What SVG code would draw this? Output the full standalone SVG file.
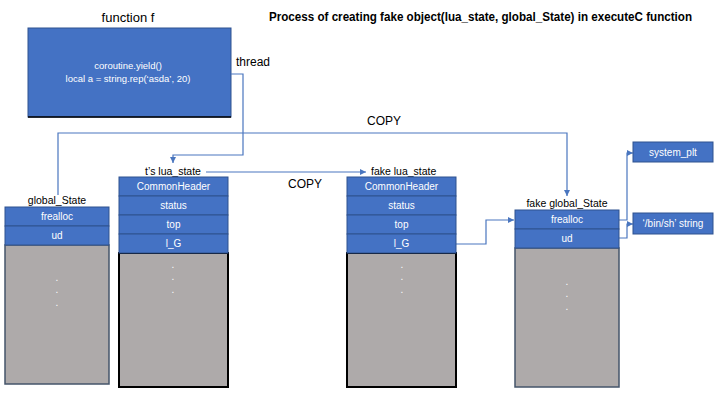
<svg xmlns="http://www.w3.org/2000/svg" width="720" height="405" viewBox="0 0 720 405">
<style>
text{font-family:"Liberation Sans",Arial,sans-serif}
.lbl{font-size:12px;fill:#000}
.sm{font-size:10.5px;fill:#000}
.cell{fill:#4472C4;stroke:#2F528F;stroke-width:1}
.ct{font-size:10px;fill:#fff;text-anchor:middle}
.dot{font-size:10px;fill:#fff;text-anchor:middle}
.gb{fill:#AEAAAA;stroke:#44546A;stroke-width:1.5}
.gk{fill:#AEAAAA;stroke:#000;stroke-width:2}
.con{fill:none;stroke:#4A76BF;stroke-width:1.2}
</style>
<defs>
<marker id="ah" markerUnits="userSpaceOnUse" markerWidth="8" markerHeight="8" refX="6" refY="3" orient="auto">
<path d="M0,0 L6,3 L0,6 z" fill="#4A76BF"/>
</marker>
</defs>
<rect width="720" height="405" fill="#fff"/>
<text x="269" y="21" style="font-size:12px;font-weight:bold" textLength="423" lengthAdjust="spacingAndGlyphs">Process of creating fake object(lua_state, global_State) in executeC function</text>

<g id="function-f">
<text x="128" y="22" class="lbl" text-anchor="middle" style="font-size:13px">function f</text>
<rect x="28" y="28" width="203" height="89" fill="#4472C4" stroke="#2F528F"/>
<line x1="28" y1="117" x2="231" y2="117" stroke="#000" stroke-width="1.5"/>
<text x="128" y="69" class="ct" style="font-size:9.5px">coroutine.yield()</text>
<text x="128" y="82" class="ct" style="font-size:9.5px">local a = string.rep(‘asda’, 20)</text>
</g>
<text x="236" y="66" class="lbl">thread</text>
<text x="367" y="125" class="lbl">COPY</text>
<text x="288" y="188" class="lbl">COPY</text>

<g id="connectors">
<path class="con" d="M231,74 H243 V155 H173 V163" marker-end="url(#ah)"/>
<path class="con" d="M58,195 V133 H567 V196" marker-end="url(#ah)"/>
<path class="con" d="M206,172 H366" marker-end="url(#ah)"/>
<path class="con" d="M456,244 H486 V220 H514" marker-end="url(#ah)"/>
<path class="con" d="M619,220 H627 V153 H633" marker-end="url(#ah)"/>
<path class="con" d="M619,238 H627 V224 H633" marker-end="url(#ah)"/>
</g>

<g id="global-state">
<text x="57" y="204" class="sm" text-anchor="middle">global_State</text>
<rect x="5" y="245" width="104" height="139" class="gb"/>
<rect x="5" y="207" width="104" height="19" class="cell"/>
<text x="57" y="220" class="ct">frealloc</text>
<rect x="5" y="226" width="104" height="19" class="cell"/>
<text x="57" y="239" class="ct">ud</text>
<text x="57" y="281" class="dot">.</text>
<text x="57" y="293" class="dot">.</text>
<text x="57" y="306" class="dot">.</text>
</g>

<g id="t-lua-state">
<text x="173" y="174.5" class="sm" text-anchor="middle">t’s lua_state</text>
<rect x="119" y="253" width="109" height="134" class="gk"/>
<rect x="119" y="177" width="109" height="19" class="cell"/>
<text x="173.5" y="190" class="ct">CommonHeader</text>
<rect x="119" y="196" width="109" height="19" class="cell"/>
<text x="173.5" y="209" class="ct">status</text>
<rect x="119" y="215" width="109" height="19" class="cell"/>
<text x="173.5" y="228" class="ct">top</text>
<rect x="119" y="234" width="109" height="19" class="cell"/>
<text x="173.5" y="247" class="ct">l_G</text>
<text x="173" y="268" class="dot">.</text>
<text x="173" y="280" class="dot">.</text>
<text x="173" y="293" class="dot">.</text>
</g>

<g id="fake-lua-state">
<text x="371" y="174.5" class="sm">fake lua_state</text>
<rect x="347" y="253" width="109" height="134" class="gk"/>
<rect x="347" y="177" width="109" height="19" class="cell"/>
<text x="401.5" y="190" class="ct">CommonHeader</text>
<rect x="347" y="196" width="109" height="19" class="cell"/>
<text x="401.5" y="209" class="ct">status</text>
<rect x="347" y="215" width="109" height="19" class="cell"/>
<text x="401.5" y="228" class="ct">top</text>
<rect x="347" y="234" width="109" height="19" class="cell"/>
<text x="401.5" y="247" class="ct">l_G</text>
<text x="402" y="268" class="dot">.</text>
<text x="402" y="280" class="dot">.</text>
<text x="402" y="293" class="dot">.</text>
</g>

<g id="fake-global-state">
<text x="567" y="207" class="sm" text-anchor="middle">fake global_State</text>
<rect x="515" y="248" width="104" height="139" class="gb"/>
<rect x="515" y="210" width="104" height="19" class="cell"/>
<text x="567" y="223" class="ct">frealloc</text>
<rect x="515" y="229" width="104" height="19" class="cell"/>
<text x="567" y="242" class="ct">ud</text>
<text x="567" y="285" class="dot">.</text>
<text x="567" y="297" class="dot">.</text>
<text x="567" y="310" class="dot">.</text>
</g>

<g id="system-plt">
<rect x="633" y="142" width="80" height="20" class="cell"/>
<text x="673" y="155.5" class="ct">system_plt</text>
</g>

<g id="binsh-string">
<rect x="633" y="213" width="80" height="21" class="cell"/>
<text x="673" y="227" class="ct">‘/bin/sh’ string</text>
</g>
</svg>
